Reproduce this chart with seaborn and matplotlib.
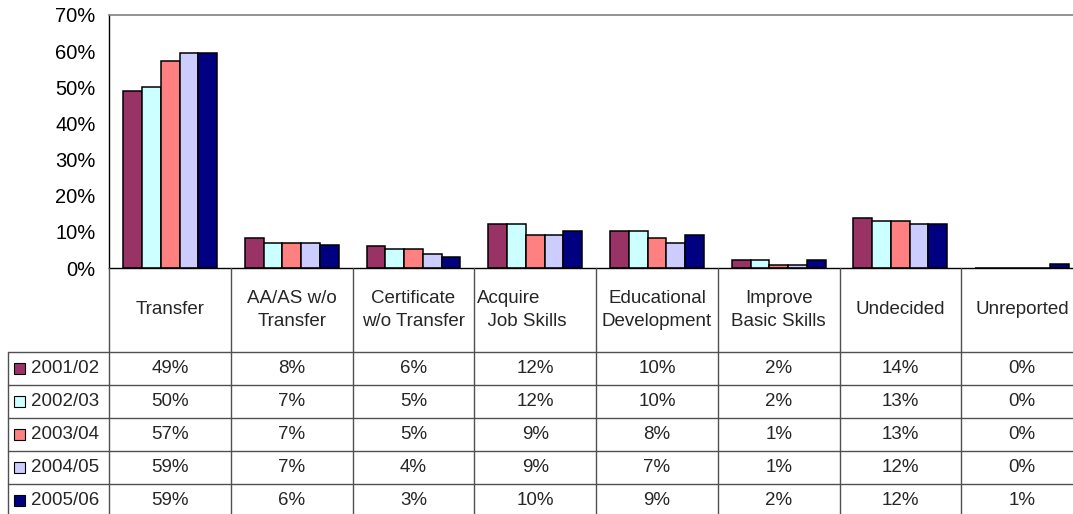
import numpy as np
import pandas as pd
import matplotlib
matplotlib.use("Agg")
import matplotlib.pyplot as plt
import matplotlib.transforms as mtransforms
from matplotlib.patches import Rectangle
import seaborn as sns

# data (bar heights, table shows rounded values)
categories = ["Transfer", "AA/AS w/o\nTransfer", "Certificate\nw/o Transfer",
              "Acquire\n  Job Skills", "Educational\nDevelopment",
              "Improve\nBasic Skills", "Undecided", "Unreported"]
years = ["2001/02", "2002/03", "2003/04", "2004/05", "2005/06"]
v2001 = [49.1, 8.3, 6.2, 12.3, 10.1, 2.3, 13.9, 0.0]
v2002 = [50.2, 7.0, 5.3, 12.3, 10.1, 2.3, 13.1, 0.0]
v2003 = [57.2, 7.0, 5.3, 9.2, 8.3, 0.9, 13.1, 0.0]
v2004 = [59.4, 7.0, 4.0, 9.2, 7.0, 0.9, 12.3, 0.0]
v2005 = [59.4, 6.3, 3.1, 10.1, 9.2, 2.3, 12.3, 1.0]
colors = ["#993366", "#CCFFFF", "#FF8080", "#CCCCFF", "#000080"]

series = [v2001, v2002, v2003, v2004, v2005]
rows = []
for yr, vals in zip(years, series):
    for cat, v in zip(categories, vals):
        rows.append({"cat": cat, "year": yr, "val": v / 100})
df = pd.DataFrame(rows)

sns.set_style("white")
plt.rcParams["font.family"] = ["Liberation Sans", "DejaVu Sans"]

W, H = 1073, 514
fig = plt.figure(figsize=(W / 100, H / 100), dpi=100)
x0, x1 = 109.3, 1082.9
y_top, y_bot = 15, 268
ax = fig.add_axes([x0 / W, 1 - y_bot / H, (x1 - x0) / W, (y_bot - y_top) / H])

sns.barplot(data=df, x="cat", y="val", hue="year", palette=colors,
            order=categories, hue_order=years, width=0.77, gap=0,
            edgecolor="black", linewidth=1.1, saturation=1, ax=ax, legend=False)

ax.set_xlim(-0.5, len(categories) - 0.5)
ax.set_ylim(0, 0.70)
ax.set_yticks(np.arange(0, 0.71, 0.10))
ax.set_yticklabels([f"{int(round(t * 100))}%" for t in np.arange(0, 0.71, 0.10)])
ax.set_xticks([])
ax.set_xlabel("")
ax.set_ylabel("")
ax.tick_params(axis="y", length=4.3, width=1, direction="out", pad=5.5,
               labelsize=14.5, colors="black")
for s in ["left", "bottom"]:
    ax.spines[s].set_color("black")
    ax.spines[s].set_linewidth(1)
ax.spines["top"].set_color("#808080")
ax.spines["top"].set_linewidth(1.2)
ax.spines["right"].set_visible(False)

# data table under the chart
blend = mtransforms.blended_transform_factory(ax.transData, fig.transFigure)
lc = "#505050"
fy = lambda py: 1 - py / H
fx = lambda px: px / W
fs = 13.5

header_bot = 352
row_h = 32.9
row_edges = [header_bot + i * row_h for i in range(6)]
n = len(categories)

# vertical column lines
for k in range(n + 1):
    fig.add_artist(plt.Line2D([k - 0.5, k - 0.5], [fy(y_bot), fy(row_edges[-1] + 2)],
                              transform=blend, color=lc, lw=1))
# row-label column border
fig.add_artist(plt.Line2D([fx(8), fx(8)], [fy(header_bot), fy(row_edges[-1] + 2)],
                          transform=fig.transFigure, color=lc, lw=1))
# horizontal lines
for ry in row_edges[:5]:
    fig.add_artist(plt.Line2D([fx(8), fx(x1)], [fy(ry), fy(ry)],
                              transform=fig.transFigure, color=lc, lw=1))

# header labels
hy = fy((y_bot + header_bot) / 2)
for k, cat in enumerate(categories):
    if cat.startswith("Acquire"):
        fig.text(k - 0.5 + 0.02, hy, cat, transform=blend, ha="left", va="center",
                 multialignment="left", fontsize=fs, linespacing=1.45)
    else:
        fig.text(k, hy, cat, transform=blend, ha="center", va="center",
                 multialignment="center", fontsize=fs, linespacing=1.45)

# rows
for i, (yr, vals, c) in enumerate(zip(years, series, colors)):
    cy = fy(row_edges[i] + row_h / 2)
    fig.add_artist(Rectangle((fx(14), cy - 5.5 / H), 11 / W, 11 / H,
                             transform=fig.transFigure, facecolor=c,
                             edgecolor="black", lw=0.8))
    fig.text(fx(31), cy, yr, ha="left", va="center", fontsize=fs)
    for k, v in enumerate(vals):
        fig.text(k, cy, f"{int(round(v))}%", transform=blend, ha="center",
                 va="center", fontsize=fs)

fig.savefig("out.png", dpi=100)
